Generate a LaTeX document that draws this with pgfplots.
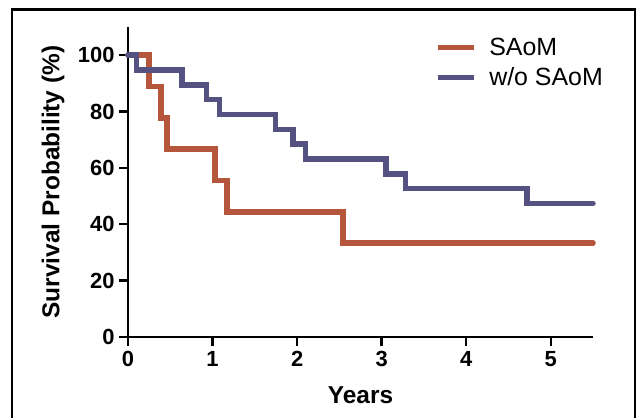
\documentclass[border=0pt]{standalone}
\usepackage{fontspec}
\setmainfont{Liberation Sans}
\usepackage{pgfplots}
\pgfplotsset{compat=1.18}
\definecolor{kmRed}{RGB}{181,85,59}
\definecolor{kmBlue}{RGB}{85,81,128}

\begin{document}
\begin{tikzpicture}[x=1bp,y=1bp]
\useasboundingbox (0,0) rectangle (637,418);
% outer frame, open at the bottom
\draw[line width=2.2bp] (12,0) -- (12,408.5) -- (635,408.5) -- (635,0);

\begin{axis}[
  at={(128bp,81bp)}, anchor=south west,
  scale only axis,
  width=465bp, height=310bp,
  xmin=0, xmax=5.5,
  ymin=0, ymax=110,
  xtick={0,1,2,3,4,5},
  ytick={0,20,40,60,80,100},
  axis x line*=bottom,
  axis y line*=left,
  axis line style={-, line width=2.6bp, black},
  tick align=outside,
  major tick length=9bp,
  tick style={line width=2.4bp, black},
  /pgf/number format/assume math mode=true,
  tick label style={font=\bfseries\fontsize{22}{22}\selectfont},
  xticklabel style={yshift=-2bp},
  yticklabel style={xshift=-1bp},
  xlabel={\textbf{Years}},
  ylabel={\textbf{Survival Probability (\%)}},
  xlabel style={font=\fontsize{24.5}{24.5}\selectfont, at={(axis description cs:0.5,-0.189)}, anchor=center},
  ylabel style={font=\fontsize{24.5}{24.5}\selectfont, at={(axis description cs:-0.161,0.5)}, anchor=center, rotate=0},
  legend style={at={(axis description cs:0.655,0.978)}, anchor=north west,
                draw=none, fill=none, font=\fontsize{25}{25}\selectfont,
                row sep=7bp, column sep=11bp, inner sep=2bp},
  legend cell align=left,
  legend image code/.code={\draw[#1, line width=5.5bp, line cap=butt] (0bp,0bp) -- (36bp,0bp);},
  clip=false,
]
\addplot[const plot, kmRed, line width=5.5bp, line cap=round, line join=miter] coordinates {
  (0,100) (0.25,88.89) (0.39,77.78) (0.46,66.67) (1.03,55.56)
  (1.17,44.44) (2.54,33.33) (5.5,33.33)
};
\addlegendentry{SAoM}
\addplot[const plot, kmBlue, line width=5.5bp, line cap=round, line join=miter] coordinates {
  (0,100) (0.10,94.74) (0.64,89.47) (0.93,84.21) (1.08,78.95)
  (1.745,73.68) (1.95,68.42) (2.10,63.16) (3.05,57.89) (3.28,52.63)
  (4.72,47.37) (5.5,47.37)
};
\addlegendentry{w/o SAoM}
\end{axis}
\end{tikzpicture}
\end{document}
